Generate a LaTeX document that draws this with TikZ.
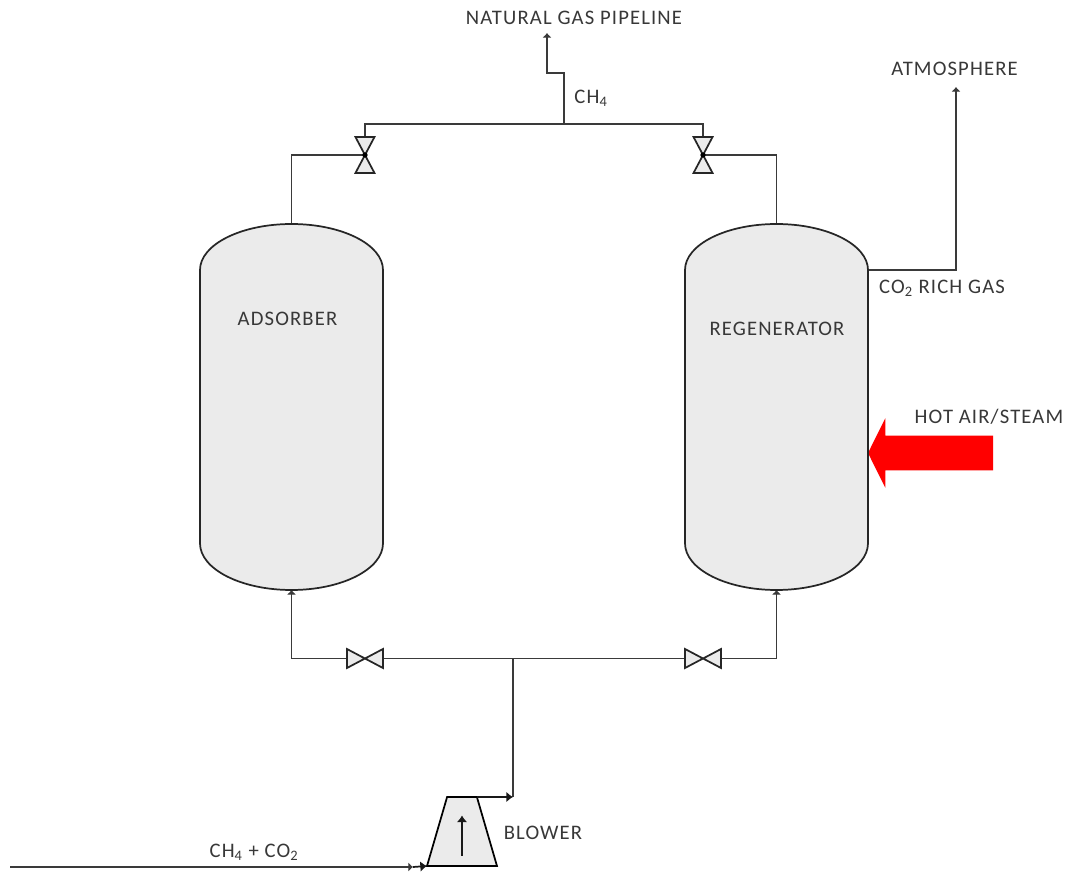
\documentclass[tikz,border=0pt]{standalone}
\usepackage{fontspec}
\setmainfont[LetterSpace=5.5]{Carlito}
\usetikzlibrary{arrows.meta, positioning, shapes.geometric, shapes.arrows}
\definecolor{linegray}{HTML}{3A3A3A}
\definecolor{shellgray}{HTML}{EBEBEB}
\begin{document}
\begin{tikzpicture}[
    x=0.75pt, y=-0.75pt,
    >={Latex[length=3.5pt,width=7pt]},
    font=\fontsize{15.5}{18}\selectfont,
    every node/.style={text=black!78},
    vessel/.style={rectangle, inner sep=0pt, outer sep=0pt, minimum width=137.25pt, minimum height=274.5pt},
    hvalve/.style={rectangle, inner sep=0pt, outer sep=0pt, minimum width=27pt, minimum height=14.25pt},
    vvalve/.style={rectangle, inner sep=0pt, outer sep=0pt, minimum width=14.25pt, minimum height=27pt},
    blowerbox/.style={trapezium, trapezium left angle=56, trapezium right angle=56, trapezium stretches=true, draw=black, line width=1.3pt, fill=shellgray, inner sep=1pt, outer sep=0pt, minimum width=52.5pt, minimum height=51.75pt},
    heatarrow/.style={single arrow, fill=red, shape border rotate=180, single arrow tip angle=127, single arrow head extend=13pt, inner xsep=0pt, inner ysep=12.75pt, outer sep=0pt, minimum height=93.75pt, minimum width=51.75pt},
    wall/.style={draw=black!85, line width=1.3pt, fill=shellgray},
    pipe/.style={draw=linegray, line width=1pt},
    heavy/.style={draw=black!90, line width=1.3pt, -{Latex[length=5pt,width=8pt]}},
    valvebody/.style={draw=black!85, line width=1.3pt, fill=shellgray}
]
\useasboundingbox (0,0) rectangle (1068,873);
% vessels
\node[vessel] (adsorber) at (291.5,407) {};
\node[vessel, right=226.5pt of adsorber] (regenerator) {};
% valves
\node[vvalve, above=38.25pt of adsorber, xshift=55.1pt] (topleft) {};
\node[vvalve, above=38.25pt of regenerator, xshift=-55.1pt] (topright) {};
\node[hvalve, below=44.25pt of adsorber, xshift=55.1pt] (botleft) {};
\node[hvalve, below=44.25pt of regenerator, xshift=-55.1pt] (botright) {};
\node[blowerbox] (blower) at (462,831.5) {};
\node[heatarrow, anchor=tip] (heat) at (868,453) {};
% junctions
\coordinate (toptee) at (564,124);
\coordinate (botjoin) at (513,658);
\coordinate (blowerout) at (513,797);
\coordinate (gasout) at (547,73);
\coordinate (ventout) at (956,87);
\coordinate (feed) at (10,867);
\coordinate (feedtip) at (413,867);
\coordinate (richout) at ([yshift=-34.5pt]regenerator.north east);
% pipework
\draw[pipe] (adsorber.north) |- (topleft.center);
\draw[pipe] (regenerator.north) |- (topright.center);
\draw[pipe] (topleft.north) |- (toptee) -| (topright.north);
\draw[pipe, ->] (toptee) |- (gasout) -- ++(0,-40);
\draw[pipe, ->] (richout) -| (ventout);
\draw[pipe, ->] (botleft.west) -| (adsorber.south);
\draw[pipe, ->] (botright.east) -| (regenerator.south);
\draw[pipe] (botleft.east) -- (botright.west);
\draw[pipe] (botjoin) -- (blowerout);
\draw[pipe, ->] (feed) -- (feedtip);
\draw[heavy] (feedtip) -- (blower.bottom left corner);
\draw[heavy] (blower.top right corner) -- (blowerout);
% shells
\foreach \shell in {adsorber, regenerator} {
    \draw[wall] ([yshift=-34.5pt]\shell.north west)
        arc[start angle=180, end angle=0, x radius=68.625pt, y radius=34.5pt]
        -- ([yshift=35pt]\shell.south east)
        arc[start angle=360, end angle=180, x radius=68.625pt, y radius=35pt]
        -- cycle;
}
\foreach \valve in {botleft, botright}
    \draw[valvebody] (\valve.north west) -- (\valve.south east) -- (\valve.north east) -- (\valve.south west) -- cycle;
\foreach \valve in {topleft, topright} {
    \draw[valvebody] (\valve.north west) -- (\valve.north east) -- (\valve.south west) -- (\valve.south east) -- cycle;
    \fill[black] (\valve.center) circle (2pt);
}
\draw[heavy] ([yshift=-18pt]blower.center) -- ([yshift=12pt]blower.center);
% labels
\node (adsorberlabel) at (287.5,319) {ADSORBER};
\node (regeneratorlabel) at (777,329) {REGENERATOR};
\node (pipelinelabel) at (574,18) {NATURAL GAS PIPELINE};
\node (atmlabel) at (954.5,69) {ATMOSPHERE};
\node (ch4label) at (591,98) {CH\textsubscript{4}};
\node (co2label) at (942,288) {CO\textsubscript{2} RICH GAS};
\node (heatlabel) at (989,417) {HOT AIR/STEAM};
\node (blowerlabel) at (543,833) {BLOWER};
\node (feedlabel) at (254,852) {CH\textsubscript{4} + CO\textsubscript{2}};
\end{tikzpicture}
\end{document}
